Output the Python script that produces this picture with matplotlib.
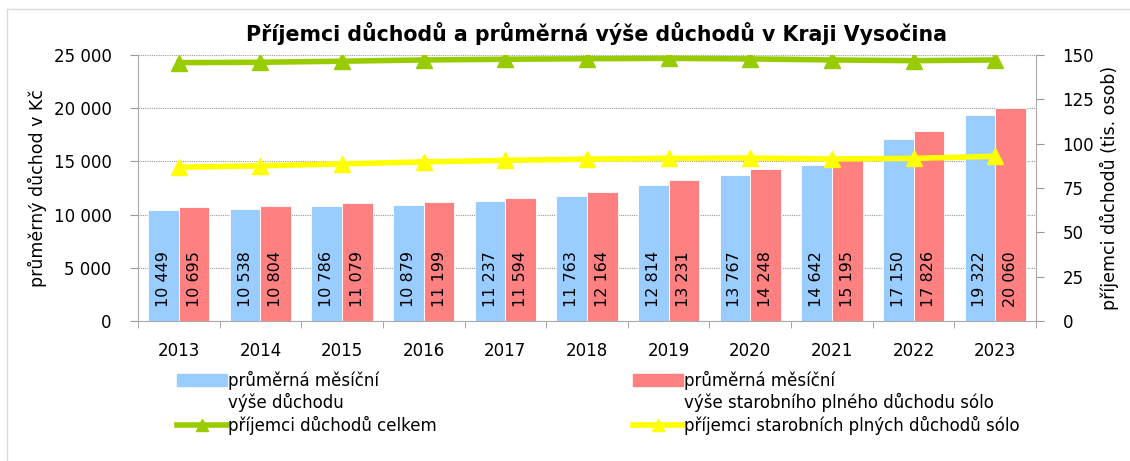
import numpy as np
import matplotlib.pyplot as plt
from matplotlib.patches import Rectangle
from matplotlib.lines import Line2D

years = ['2013', '2014', '2015', '2016', '2017', '2018', '2019', '2020', '2021', '2022', '2023']
vyse_duchodu = [10449, 10538, 10786, 10879, 11237, 11763, 12814, 13767, 14642, 17150, 19322]
vyse_starobni = [10695, 10804, 11079, 11199, 11594, 12164, 13231, 14248, 15195, 17826, 20060]
prijemci_celkem = [145.7, 145.9, 146.5, 147.2, 147.6, 147.9, 148.1, 147.8, 147.2, 146.8, 147.2]
prijemci_starobni = [86.7, 87.5, 88.6, 89.7, 90.6, 91.3, 91.7, 91.9, 91.4, 91.7, 92.9]

blue = '#99CCFF'
red = '#FF8080'
green = '#99CC00'
yellow = '#FFFF00'

plt.rcParams['font.family'] = 'DejaVu Sans'
plt.rcParams['font.size'] = 12

fig = plt.figure(figsize=(11.3, 4.61), dpi=100)
ax = fig.add_axes([138 / 1130, 1 - 321 / 461, (1036 - 138) / 1130, (321 - 55) / 461])

x = np.arange(len(years))
w = 0.375
ax.bar(x - w / 2, vyse_duchodu, w, color=blue, edgecolor='white', linewidth=0.6, zorder=2)
ax.bar(x + w / 2, vyse_starobni, w, color=red, edgecolor='white', linewidth=0.6, zorder=2)

def fmt(v):
    return f'{v:,}'.replace(',', ' ')

for i in range(len(years)):
    ax.text(x[i] - w / 2, 1350, fmt(vyse_duchodu[i]), rotation=90, ha='center', va='bottom', fontsize=11.5, zorder=3)
    ax.text(x[i] + w / 2, 1350, fmt(vyse_starobni[i]), rotation=90, ha='center', va='bottom', fontsize=11.5, zorder=3)

ax.set_xlim(-0.5, len(years) - 0.5)
ax.set_ylim(0, 25000)
ax.set_yticks(range(0, 25001, 5000))
ax.set_yticklabels([fmt(v) for v in range(0, 25001, 5000)])
ax.set_xticks(x)
ax.set_xticklabels(years)
ax.set_xticks(np.arange(-0.5, len(years), 1), minor=True)
ax.tick_params(axis='x', which='major', length=0, pad=15, labelsize=12)
ax.tick_params(axis='x', which='minor', length=5, color='#999999')
ax.tick_params(axis='y', length=6, color='#999999', pad=13, labelsize=12)
ax.yaxis.grid(True, linestyle=(0, (1, 1)), color='#999999', linewidth=0.8, zorder=0)
ax.set_axisbelow(True)
for s in ['left', 'bottom']:
    ax.spines[s].set_color('#AAAAAA')
ax.spines['top'].set_visible(False)
ax.spines['right'].set_visible(False)
ax.set_ylabel('průměrný důchod v Kč', fontsize=12.5, labelpad=5)

ax2 = ax.twinx()
ax2.plot(x, prijemci_celkem, color=green, linewidth=4, marker='^', markersize=11, zorder=4)
ax2.plot(x, prijemci_starobni, color=yellow, linewidth=4, marker='^', markersize=11, zorder=4)
ax2.set_ylim(0, 150)
ax2.set_yticks(range(0, 151, 25))
ax2.tick_params(axis='y', length=6, color='#999999', pad=13, labelsize=12)
ax2.spines['right'].set_color('#AAAAAA')
ax2.spines['top'].set_visible(False)
ax2.spines['left'].set_visible(False)
ax2.spines['bottom'].set_visible(False)
ax2.set_ylabel('příjemci důchodů (tis. osob)', fontsize=12.5, labelpad=4)

fig.text(597 / 1130, 1 - 33 / 461, 'Příjemci důchodů a průměrná výše důchodů v Kraji Vysočina',
         ha='center', va='center', fontsize=14.8, fontweight='bold')

h_blue = Rectangle((0, 0), 1, 1, color=blue)
h_red = Rectangle((0, 0), 1, 1, color=red)
h_none = Rectangle((0, 0), 1, 1, fill=False, edgecolor='none')
h_green = Line2D([], [], color=green, linewidth=4, marker='^', markersize=9)
h_yellow = Line2D([], [], color=yellow, linewidth=4, marker='^', markersize=9)

leg_kw = dict(frameon=False, fontsize=12, handlelength=3.0, handletextpad=0.1, labelspacing=0.22,
              loc='upper left', borderaxespad=0)
fig.legend([h_blue, h_none, h_green], ['průměrná měsíční', 'výše důchodu', 'příjemci důchodů celkem'],
           bbox_to_anchor=(170 / 1130, 1 - 364 / 461), **leg_kw)
fig.legend([h_red, h_none, h_yellow],
           ['průměrná měsíční', 'výše starobního plného důchodu sólo', 'příjemci starobních plných důchodů sólo'],
           bbox_to_anchor=(626 / 1130, 1 - 364 / 461), **leg_kw)

fig.patches.append(Rectangle((7 / 1130, -0.1), 1.2, 1 - 9 / 461 + 0.1, transform=fig.transFigure,
                             fill=False, edgecolor='#D9D9D9', linewidth=1))

plt.savefig('out.png', dpi=100)
